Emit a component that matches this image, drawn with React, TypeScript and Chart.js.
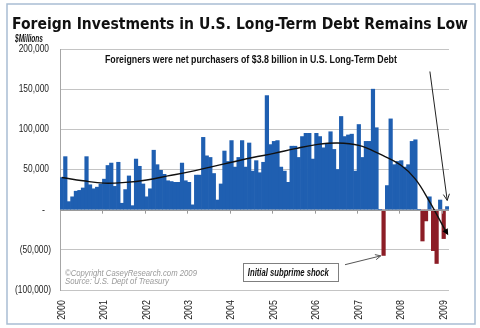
import React, { useEffect, useRef } from 'react';
import { Chart, registerables } from 'chart.js';

Chart.register(...registerables);

const YEARS = ['2000', '2001', '2002', '2003', '2004', '2005', '2006', '2007', '2008', '2009'];

// Net foreign purchases of U.S. long-term debt, $ millions, monthly
const Y2000 = [40000, 66000, 10000, 16000, 23000, 24000, 27000, 66000, 31000, 26000, 28000, 32000];
const Y2001 = [38000, 55000, 58000, 29000, 59000, 8000, 25000, 42000, 5000, 63000, 54000, 32000];
const Y2002 = [16000, 26000, 74000, 56000, 49000, 44000, 36000, 35000, 34000, 34000, 58000, 36000];
const Y2003 = [34000, 6000, 43000, 43000, 90000, 67000, 65000, 45000, 12000, 32000, 73000, 60000];
const Y2004 = [86000, 53000, 65000, 86000, 53000, 83000, 48000, 61000, 46000, 59000, 142000, 81000];
const Y2005 = [85000, 86000, 53000, 48000, 34000, 79000, 79000, 65000, 91000, 95000, 95000, 63000];
const Y2006 = [95000, 91000, 77000, 82000, 97000, 75000, 50000, 116000, 91000, 93000, 94000, 48000];
const Y2007 = [106000, 65000, 85000, 85000, 150000, 102000, 0, -57000, 30000, 113000, 56000, 60000];
const Y2008 = [61000, 53000, 56000, 85000, 87000, 0, -39000, -14000, 16000, -51000, -67000, 12000];
const Y2009 = [-36000, 3800];

// Polynomial trend line, read at a few months
const TREND_MONTHS = [0, 6, 12, 18, 24, 30, 36, 42, 48, 54, 60, 66, 72, 78, 84, 90, 96, 100, 104, 108, 109];
const TREND_VALUES = [40000, 36000, 33000, 34000, 37000, 42000, 47000, 53000, 59000, 65000, 70000, 76000, 81000, 83000, 80000, 69000, 55000, 38000, 10000, -22000, -30000];

const Y_TICKS = [-100000, -50000, 0, 50000, 100000, 150000, 200000];

const TITLE = 'Foreign Investments in U.S. Long-Term Debt Remains Low';
const UNIT = '$Millions';
const NOTE = 'Foreigners were net purchasers of $3.8 billion in U.S. Long-Term Debt';
const SHOCK = 'Initial subprime shock';
const COPY1 = '\u00A9Copyright CaseyResearch.com 2009';
const COPY2 = 'Source: U.S. Dept of Treasury';

const BLUE = '#1f5fb1';
const RED = '#8c1d26';
const SANS = "'Liberation Sans', Arial, sans-serif";

function fitText(ctx: CanvasRenderingContext2D, text: string, left: number, base: number, width: number) {
  const w = ctx.measureText(text).width;
  const s = width / w;
  ctx.save();
  ctx.translate(left, base);
  ctx.scale(s, 1);
  ctx.textAlign = 'left';
  ctx.textBaseline = 'alphabetic';
  ctx.fillText(text, 0, 0);
  ctx.restore();
}

function squeezeRight(ctx: CanvasRenderingContext2D, text: string, right: number, mid: number, sx: number) {
  ctx.save();
  ctx.translate(right, mid);
  ctx.scale(sx, 1);
  ctx.textAlign = 'right';
  ctx.textBaseline = 'middle';
  ctx.fillText(text, 0, 0);
  ctx.restore();
}

function arrowHead(ctx: CanvasRenderingContext2D, x0: number, y0: number, x1: number, y1: number, size: number, filled: boolean) {
  const a = Math.atan2(y1 - y0, x1 - x0);
  const p1x = x1 - size * Math.cos(a - 0.45), p1y = y1 - size * Math.sin(a - 0.45);
  const p2x = x1 - size * Math.cos(a + 0.45), p2y = y1 - size * Math.sin(a + 0.45);
  ctx.beginPath();
  if (filled) {
    ctx.moveTo(x1, y1); ctx.lineTo(p1x, p1y); ctx.lineTo(p2x, p2y); ctx.closePath(); ctx.fill();
  } else {
    ctx.moveTo(p1x, p1y); ctx.lineTo(x1, y1); ctx.lineTo(p2x, p2y); ctx.stroke();
  }
}

function fmt(v: number) {
  return Math.abs(v).toLocaleString('en-US');
}

const decor = {
  id: 'decor',
  beforeDraw(chart: any) {
    const ctx = chart.ctx as CanvasRenderingContext2D;
    ctx.save();
    ctx.fillStyle = '#ffffff';
    ctx.fillRect(0, 0, chart.width, chart.height);
    ctx.strokeStyle = '#a9bdd3';
    ctx.lineWidth = 1.5;
    ctx.strokeRect(7, 4, 468, 320);
    ctx.fillStyle = '#111';
    ctx.font = "bold 15px 'DejaVu Sans', sans-serif";
    fitText(ctx, TITLE, 12, 28.5, 456);
    ctx.font = `italic bold 10px ${SANS}`;
    fitText(ctx, UNIT, 15, 41.5, 28);
    ctx.restore();
  },
  afterDatasetsDraw(chart: any) {
    const ctx = chart.ctx as CanvasRenderingContext2D;
    const xs = chart.scales.x;
    const ys = chart.scales.y;
    const area = chart.chartArea;
    const labels = chart.data.labels as string[];
    const n = labels.length;
    const step = (area.right - area.left) / n;
    const y0 = ys.getPixelForValue(0);
    ctx.save();
    // zero axis line and year tick marks
    ctx.strokeStyle = '#9a9a9a';
    ctx.lineWidth = 1;
    ctx.beginPath();
    ctx.moveTo(area.left, Math.round(y0) + 0.5);
    ctx.lineTo(area.right, Math.round(y0) + 0.5);
    for (let i = 12; i < n; i += 12) {
      const x = Math.round(xs.getPixelForValue(i) - step / 2) + 0.5;
      ctx.moveTo(x, y0);
      ctx.lineTo(x, y0 + 4);
    }
    ctx.stroke();

    // y tick labels
    ctx.fillStyle = '#222';
    ctx.font = `10.5px ${SANS}`;
    Y_TICKS.forEach((v) => {
      const y = ys.getPixelForValue(v);
      if (v === 0) squeezeRight(ctx, '-', area.left - 15, y, 0.85);
      else if (v < 0) squeezeRight(ctx, `(${fmt(v)})`, area.left - 9, y, 0.8);
      else squeezeRight(ctx, fmt(v), area.left - 11, y, 0.8);
    });
    // x tick labels (rotated)
    labels.forEach((lab, i) => {
      if (!lab) return;
      const x = xs.getPixelForValue(i);
      ctx.save();
      ctx.translate(x, area.bottom + 10);
      ctx.rotate(-Math.PI / 2);
      ctx.scale(0.85, 1);
      ctx.textAlign = 'right';
      ctx.textBaseline = 'middle';
      ctx.fillText(lab, 0, 0);
      ctx.restore();
    });

    // trend arrowhead
    const tl = chart.getDatasetMeta(0).data;
    const last = TREND_MONTHS[TREND_MONTHS.length - 1];
    const prev = TREND_MONTHS[TREND_MONTHS.length - 2];
    const pe = tl[last], pp = tl[prev];
    ctx.fillStyle = '#000';
    arrowHead(ctx, pp.x, pp.y, pe.x + 1, pe.y + 1.5, 7, true);

    // note text and arrow to last bar
    ctx.fillStyle = '#111';
    ctx.font = `bold 11px ${SANS}`;
    fitText(ctx, NOTE, xs.getPixelForValue(12.2), ys.getPixelForValue(182000), 292);
    ctx.strokeStyle = '#222';
    ctx.lineWidth = 1;
    const ax0 = xs.getPixelForValue(104.1), ay0 = ys.getPixelForValue(172000);
    const ax1 = xs.getPixelForValue(n - 1), ay1 = ys.getPixelForValue(11500);
    ctx.beginPath();
    ctx.moveTo(ax0, ay0);
    ctx.lineTo(ax1, ay1);
    ctx.stroke();
    arrowHead(ctx, ax0, ay0, ax1, ay1, 7, false);

    // subprime box
    const bl = xs.getPixelForValue(51.2), br = xs.getPixelForValue(78.1);
    const bt = ys.getPixelForValue(-67000), bb = ys.getPixelForValue(-89500);
    ctx.fillStyle = '#fff';
    ctx.fillRect(bl, bt, br - bl, bb - bt);
    ctx.strokeStyle = '#7f7f7f';
    ctx.strokeRect(Math.round(bl) + 0.5, Math.round(bt) + 0.5, Math.round(br - bl), Math.round(bb - bt));
    ctx.fillStyle = '#111';
    ctx.font = `italic bold 10px ${SANS}`;
    fitText(ctx, SHOCK, bl + 5, bb - 5.5, 81);
    const sx0 = xs.getPixelForValue(80.1), sy0 = ys.getPixelForValue(-68500);
    const sx1 = xs.getPixelForValue(90.2), sy1 = ys.getPixelForValue(-57500);
    ctx.strokeStyle = '#555';
    ctx.beginPath();
    ctx.moveTo(sx0, sy0);
    ctx.lineTo(sx1, sy1);
    ctx.stroke();
    arrowHead(ctx, sx0, sy0, sx1, sy1, 6, false);

    // copyright
    ctx.fillStyle = '#9a9a9a';
    ctx.font = `italic 8.5px ${SANS}`;
    fitText(ctx, COPY1, xs.getPixelForValue(0.9), ys.getPixelForValue(-82000), 132);
    fitText(ctx, COPY2, xs.getPixelForValue(0.9), ys.getPixelForValue(-93000), 104);
    ctx.restore();
  },
};

export default function App() {
  const ref = useRef<HTMLCanvasElement>(null);
  useEffect(() => {
    document.body.style.margin = '0';
    const values = [...Y2000, ...Y2001, ...Y2002, ...Y2003, ...Y2004, ...Y2005, ...Y2006, ...Y2007, ...Y2008, ...Y2009];
    const labels = values.map((_, i) => (i % 12 === 0 ? YEARS[i / 12] : ''));
    const trend: (number | null)[] = values.map(() => null);
    TREND_MONTHS.forEach((m, k) => { trend[m] = TREND_VALUES[k]; });
    const chart = new Chart(ref.current as HTMLCanvasElement, {
      type: 'bar',
      data: {
        labels,
        datasets: [
          {
            type: 'line',
            data: trend,
            borderColor: '#111',
            borderWidth: 1.4,
            pointRadius: 0,
            spanGaps: true,
            tension: 0.4,
            order: 0,
          } as any,
          {
            type: 'bar',
            data: values,
            backgroundColor: values.map((v) => (v < 0 ? RED : BLUE)),
            borderWidth: 0,
            barPercentage: 1,
            categoryPercentage: 1,
            order: 1,
          },
        ],
      },
      options: {
        animation: false,
        responsive: true,
        maintainAspectRatio: false,
        layout: { padding: { left: 0, right: 31, top: 49, bottom: 0 } },
        plugins: { legend: { display: false }, title: { display: false }, tooltip: { enabled: false } },
        scales: {
          x: {
            type: 'category',
            grid: { display: false },
            border: { display: false },
            afterFit: (s: any) => { s.height = 38; },
            ticks: { display: false, autoSkip: false },
          },
          y: {
            min: Y_TICKS[0],
            max: Y_TICKS[Y_TICKS.length - 1],
            afterFit: (s: any) => { s.width = 60; },
            afterBuildTicks: (s: any) => { s.ticks = Y_TICKS.map((v) => ({ value: v })); },
            grid: { color: '#c4c4c4', drawTicks: false, lineWidth: 1 },
            border: { display: true, color: '#a6a6a6' },
            ticks: { display: false },
          },
        },
      },
      plugins: [decor],
    });
    return () => chart.destroy();
  }, []);
  return (
    <div style={{ width: 480, height: 328, position: 'relative' }}>
      <canvas ref={ref} />
    </div>
  );
}
